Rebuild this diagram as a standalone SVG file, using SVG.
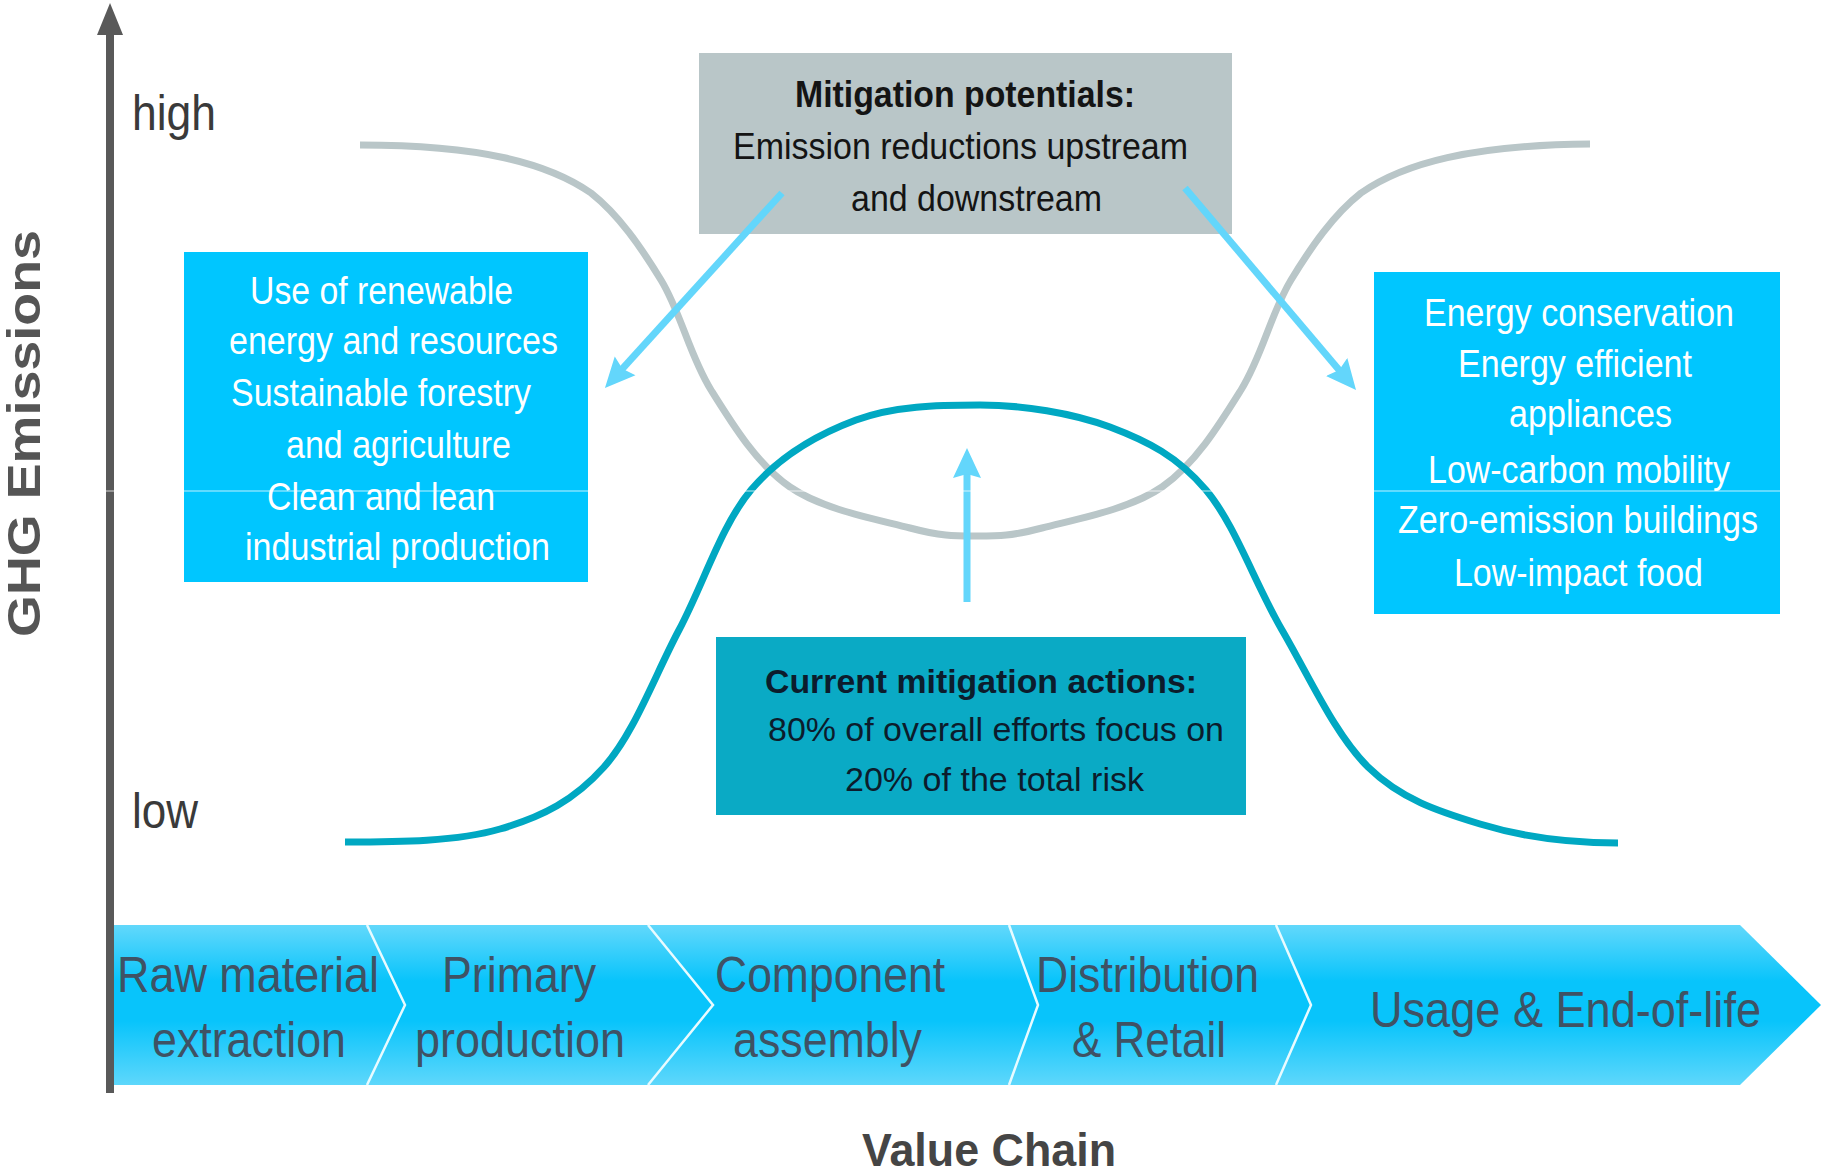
<svg xmlns="http://www.w3.org/2000/svg" width="1822" height="1175" viewBox="0 0 1822 1175">
<defs>
<style>
.narrow{font-family:"Liberation Sans Narrow","Liberation Sans",Arial,sans-serif}
.wt{font-size:38px;fill:#ffffff}
.gt{font-size:36px;fill:#141414}
.tt{font-size:33px;fill:#0c1c2c}
.bar{font-family:"Liberation Sans",Arial,sans-serif;font-size:50px;fill:#3f5264}
.axl{font-family:"Liberation Sans",Arial,sans-serif;font-size:50px;fill:#3a3a3a}
.curve{fill:none;stroke-width:7;stroke-linecap:butt;stroke-linejoin:round}
.arrow{fill:none;stroke:#63d6fb;stroke-width:7}
.sep{fill:none;stroke:#e8fbff;stroke-width:2.5}
</style>
<linearGradient id="barGrad" x1="0" y1="0" x2="0" y2="1">
<stop offset="0" stop-color="#62d8fb"/>
<stop offset="0.35" stop-color="#08c4fb"/>
<stop offset="0.6" stop-color="#08c4fb"/>
<stop offset="1" stop-color="#5ed7fb"/>
</linearGradient>
<marker id="ah" markerUnits="userSpaceOnUse" markerWidth="40" markerHeight="40" viewBox="0 -20 40 40" refX="10" refY="0" orient="auto">
<path d="M0,-14 L30,0 L0,14 L4,0 Z" fill="#63d6fb"/>
</marker>
<marker id="axisHead" markerUnits="userSpaceOnUse" markerWidth="40" markerHeight="40" viewBox="0 -20 40 40" refX="8" refY="0" orient="auto">
<path d="M0,-13 L32,0 L0,13 Z" fill="#595959"/>
</marker>
</defs>
<rect x="0" y="0" width="1822" height="1175" fill="#ffffff"/>

<g id="axis">
<line x1="110" y1="1093" x2="110" y2="27" stroke="#595959" stroke-width="8" marker-end="url(#axisHead)"/>
<text class="axl" x="132" y="130" textLength="84" lengthAdjust="spacingAndGlyphs">high</text>
<text class="axl" x="132" y="828" textLength="66" lengthAdjust="spacingAndGlyphs">low</text>
<text transform="translate(40,637) rotate(-90)" font-family="Liberation Sans, Arial, sans-serif" font-weight="bold" font-size="46" fill="#555555" textLength="407" lengthAdjust="spacingAndGlyphs">GHG Emissions</text>
</g>

<g id="curves">
<path class="curve" stroke="#b9c6c8" d="M360,145 C480,145 548,163 591,193 C618.7,214.8 641,247.2 661,280 C681,312.8 689.5,355.5 711,390 C732.5,424.5 756.8,464 790,487 C823.2,510 879,519.8 910,528 C941,536.2 954,536 976,536 C998,536 1011,536.2 1042,528 C1073,519.8 1128.8,510 1162,487 C1195.2,464 1219.5,424.5 1241,390 C1262.5,355.5 1271,312.8 1291,280 C1311,247.2 1333.3,214.8 1361,193 C1404,163 1472,145 1590,144"/>
<path class="curve" stroke="#00a8c2" d="M345,842 C400,842 456.8,841.5 500,829 C543.2,816.5 574.2,800.2 604,767 C633.8,733.8 654.5,676.2 679,630 C703.5,583.8 721.5,525 751,490 C780.5,455 817.8,434.2 856,420 C894.2,405.8 937.7,405 980,405 C1022.3,405 1072.3,412.8 1110,427 C1147.7,441.2 1177.3,456.2 1206,490 C1234.7,523.8 1255,583.8 1282,630 C1309,676.2 1335,734.7 1368,767 C1401,799.3 1438.3,811.3 1480,824 C1521.7,836.7 1565,843 1618,843"/>
</g>

<g id="mitigation-potentials">
<rect x="699" y="53" width="533" height="181" fill="#b9c6c8"/>
<text class="narrow gt" x="795" y="107" font-weight="bold" textLength="340" lengthAdjust="spacingAndGlyphs">Mitigation potentials:</text>
<text class="narrow gt" x="733" y="159" textLength="455" lengthAdjust="spacingAndGlyphs">Emission reductions upstream</text>
<text class="narrow gt" x="851" y="211" textLength="251" lengthAdjust="spacingAndGlyphs">and downstream</text>
</g>

<g id="upstream-box">
<rect x="184" y="252" width="404" height="330" fill="#00c6ff"/>
<text class="narrow wt" x="250" y="304" textLength="263" lengthAdjust="spacingAndGlyphs">Use of renewable</text>
<text class="narrow wt" x="229" y="354" textLength="329" lengthAdjust="spacingAndGlyphs">energy and resources</text>
<text class="narrow wt" x="231" y="406" textLength="300" lengthAdjust="spacingAndGlyphs">Sustainable forestry</text>
<text class="narrow wt" x="286" y="458" textLength="225" lengthAdjust="spacingAndGlyphs">and agriculture</text>
<text class="narrow wt" x="267" y="510" textLength="228" lengthAdjust="spacingAndGlyphs">Clean and lean</text>
<text class="narrow wt" x="245" y="560" textLength="305" lengthAdjust="spacingAndGlyphs">industrial production</text>
</g>

<g id="downstream-box">
<rect x="1374" y="272" width="406" height="342" fill="#00c6ff"/>
<text class="narrow wt" x="1424" y="326" textLength="310" lengthAdjust="spacingAndGlyphs">Energy conservation</text>
<text class="narrow wt" x="1458" y="377" textLength="234" lengthAdjust="spacingAndGlyphs">Energy efficient</text>
<text class="narrow wt" x="1509" y="427" textLength="163" lengthAdjust="spacingAndGlyphs">appliances</text>
<text class="narrow wt" x="1428" y="483" textLength="302" lengthAdjust="spacingAndGlyphs">Low-carbon mobility</text>
<text class="narrow wt" x="1398" y="533" textLength="360" lengthAdjust="spacingAndGlyphs">Zero-emission buildings</text>
<text class="narrow wt" x="1454" y="586" textLength="249" lengthAdjust="spacingAndGlyphs">Low-impact food</text>
</g>

<g id="current-actions">
<rect x="716" y="637" width="530" height="178" fill="#0aaac5"/>
<text class="narrow tt" x="765" y="693" font-weight="bold" textLength="432" lengthAdjust="spacingAndGlyphs">Current mitigation actions:</text>
<text class="narrow tt" x="768" y="741" textLength="456" lengthAdjust="spacingAndGlyphs">80% of overall efforts focus on</text>
<text class="narrow tt" x="845" y="791" textLength="299" lengthAdjust="spacingAndGlyphs">20% of the total risk</text>
</g>

<g id="connectors">
<line class="arrow" x1="782" y1="193" x2="618.4" y2="373.2" marker-end="url(#ah)"/>
<line class="arrow" x1="1185" y1="188" x2="1343.1" y2="374.7" marker-end="url(#ah)"/>
<line class="arrow" x1="967" y1="602" x2="967" y2="468" marker-end="url(#ah)"/>
</g>

<g id="value-chain">
<polygon points="114,925 1740,925 1821,1005 1740,1085 114,1085" fill="url(#barGrad)"/>
<polyline class="sep" points="367,925 405,1005 367,1085"/>
<polyline class="sep" points="648,925 713,1005 648,1085"/>
<polyline class="sep" points="1009,925 1038,1005 1009,1085"/>
<polyline class="sep" points="1276,925 1311,1005 1276,1085"/>
<g id="stage-raw">
<text class="bar" x="117" y="992" textLength="262" lengthAdjust="spacingAndGlyphs">Raw material</text>
<text class="bar" x="152" y="1057" textLength="194" lengthAdjust="spacingAndGlyphs">extraction</text>
</g>
<g id="stage-primary">
<text class="bar" x="442" y="992" textLength="154" lengthAdjust="spacingAndGlyphs">Primary</text>
<text class="bar" x="415" y="1057" textLength="210" lengthAdjust="spacingAndGlyphs">production</text>
</g>
<g id="stage-component">
<text class="bar" x="715" y="992" textLength="230" lengthAdjust="spacingAndGlyphs">Component</text>
<text class="bar" x="733" y="1057" textLength="189" lengthAdjust="spacingAndGlyphs">assembly</text>
</g>
<g id="stage-distribution">
<text class="bar" x="1036" y="992" textLength="223" lengthAdjust="spacingAndGlyphs">Distribution</text>
<text class="bar" x="1072" y="1057" textLength="154" lengthAdjust="spacingAndGlyphs">&amp; Retail</text>
</g>
<g id="stage-usage">
<text class="bar" x="1370" y="1027" textLength="391" lengthAdjust="spacingAndGlyphs">Usage &amp; End-of-life</text>
</g>
<text x="862" y="1166" font-family="Liberation Sans Narrow, Liberation Sans, Arial, sans-serif" font-weight="bold" font-size="46" fill="#454545" textLength="254" lengthAdjust="spacingAndGlyphs">Value Chain</text>
</g>

<line id="scan-seam" x1="70" y1="491" x2="1822" y2="491" stroke="#ffffff" stroke-width="1.2" stroke-opacity="0.75"/>
</svg>
